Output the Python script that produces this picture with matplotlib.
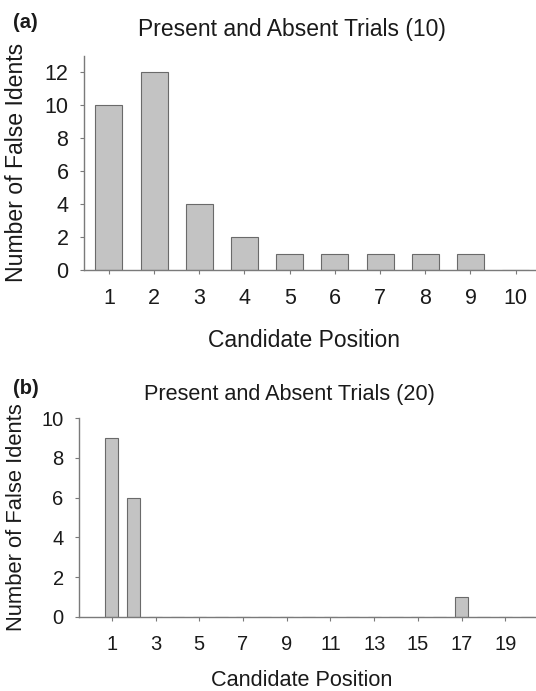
import matplotlib
matplotlib.use("Agg")
import matplotlib.pyplot as plt

# ---- data ----
top_positions = [1, 2, 3, 4, 5, 6, 7, 8, 9, 10]
top_counts = [10, 12, 4, 2, 1, 1, 1, 1, 1, 0]
top_yticks = [0, 2, 4, 6, 8, 10, 12]

bottom_positions = list(range(1, 21))
bottom_counts = [9, 6, 0, 0, 0, 0, 0, 0, 0, 0, 0, 0, 0, 0, 0, 0, 1, 0, 0, 0]
bottom_xticks = [1, 3, 5, 7, 9, 11, 13, 15, 17, 19]
bottom_yticks = [0, 2, 4, 6, 8, 10]

title_top = "Present and Absent Trials (10)"
title_bottom = "Present and Absent Trials (20)"
xlabel = "Candidate Position"
ylabel = "Number of False Idents"

plt.rcParams['font.family'] = ['Liberation Sans', 'DejaVu Sans']

W, H = 536, 691
fig = plt.figure(figsize=(W / 100, H / 100), dpi=100)

def ax_rect(left, top, right, bottom):
    return [left / W, 1 - bottom / H, (right - left) / W, (bottom - top) / H]

txt = '#1a1a1a'
spine_c = '#7a7a7a'
bar_c = '#c3c3c3'
edge_c = '#6a6a6a'

def style(ax, fs, xpad, ypad):
    for s in ['top', 'right']:
        ax.spines[s].set_visible(False)
    for s in ['left', 'bottom']:
        ax.spines[s].set_color(spine_c)
        ax.spines[s].set_linewidth(1.0)
    ax.tick_params(axis='both', colors=spine_c, labelcolor=txt, labelsize=fs,
                   direction='out', length=3, width=0.8)
    ax.tick_params(axis='x', pad=xpad)
    ax.tick_params(axis='y', pad=ypad)

# top panel
ax1 = fig.add_axes(ax_rect(84, 56, 536, 270))
ax1.bar(top_positions, top_counts, width=0.6, color=bar_c, edgecolor=edge_c, linewidth=0.8)
ax1.set_xlim(0.45, 10.45)
ax1.set_ylim(0, 13)
ax1.set_xticks(top_positions)
ax1.set_yticks(top_yticks)
style(ax1, 15.5, 10, 8.2)

# bottom panel
ax2 = fig.add_axes(ax_rect(79, 418, 536, 617))
ax2.bar(bottom_positions, bottom_counts, width=0.6, color=bar_c, edgecolor=edge_c, linewidth=0.8)
ax2.set_xlim(-0.5, 20.4)
ax2.set_ylim(0, 10)
ax2.set_xticks(bottom_xticks)
ax2.set_yticks(bottom_yticks)
style(ax2, 14.5, 10, 8)

def ftext(x, y, s, **kw):
    fig.text(x / W, 1 - y / H, s, color=txt, **kw)

ftext(13, 22.5, "(a)", fontsize=14.5, fontweight='bold', ha='left', va='center')
ftext(13, 388, "(b)", fontsize=14.5, fontweight='bold', ha='left', va='center')
ftext(292, 36, title_top, fontsize=16.5, ha='center', va='baseline')
ftext(289, 400, title_bottom, fontsize=15.6, ha='center', va='baseline')
ftext(304, 346.5, xlabel, fontsize=16.5, ha='center', va='baseline')
ftext(302, 686, xlabel, fontsize=15.6, ha='center', va='baseline')
ftext(16.7, 162, ylabel, fontsize=16.6, ha='center', va='center', rotation=90)
ftext(16.7, 517, ylabel, fontsize=15.8, ha='center', va='center', rotation=90)

fig.savefig("out.png", dpi=100)
